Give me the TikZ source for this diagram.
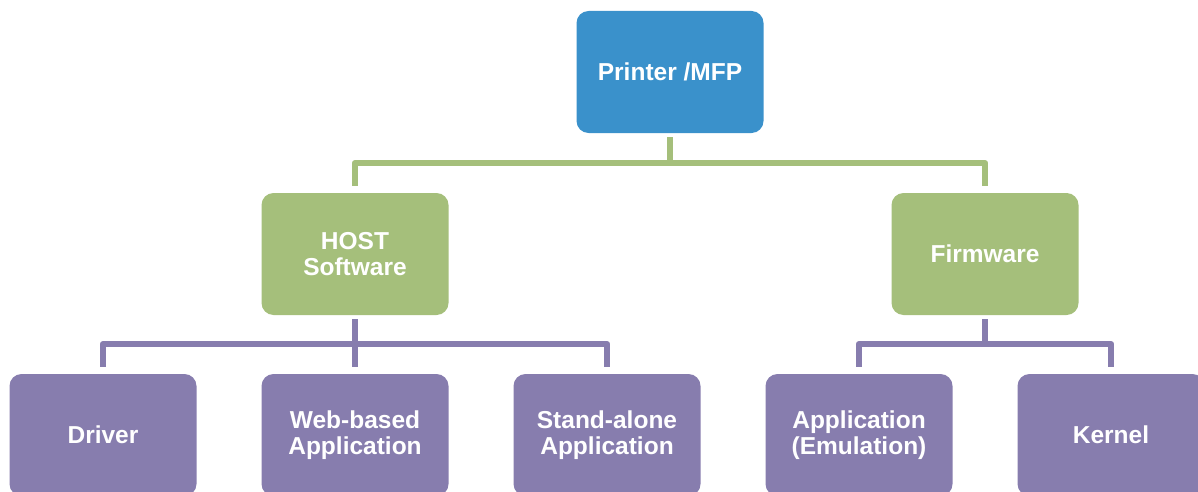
\documentclass[tikz,border=0pt]{standalone}
\usepackage{fontspec}
\setmainfont{Liberation Sans}
\definecolor{cblue}{HTML}{3A91CB}
\definecolor{cgreen}{HTML}{A5BF7B}
\definecolor{cpurple}{HTML}{877DAE}
\begin{document}
\begin{tikzpicture}[x=1pt,y=1pt,
  box/.style={rectangle, rounded corners=12pt, minimum width=187pt, draw=none,
    text=white, font=\fontsize{24.5}{26}\selectfont\bfseries, align=center, inner sep=0pt},
  topbox/.style={box, fill=cblue, minimum height=122pt},
  midbox/.style={box, fill=cgreen, minimum height=122pt},
  lowbox/.style={box, fill=cpurple, minimum height=122pt},
  gline/.style={draw=cgreen, line width=6.5pt, line join=round},
  pline/.style={draw=cpurple, line width=6.5pt, line join=round}]
\useasboundingbox (0,0) rectangle (1198,-492);
\node[topbox] (top) at (670,-72) {Printer /MFP};
\node[midbox] (host) at (355,-254) {HOST\\Software};
\node[midbox] (fw) at (985,-254) {Firmware};
\node[lowbox] (drv) at (103,-435) {Driver};
\node[lowbox] (web) at (355,-435) {Web-based\\Application};
\node[lowbox] (sa) at (607,-435) {Stand-alone\\Application};
\node[lowbox] (app) at (859,-435) {Application\\(Emulation)};
\node[lowbox] (ker) at (1111,-435) {Kernel};
% green connectors
\draw[gline] ([yshift=-4pt]top.south) -- ++(0,-26) coordinate (gbar);
\draw[gline] ([yshift=7pt]host.north) |- (gbar) -| ([yshift=7pt]fw.north);
% purple connectors, host
\draw[pline] ([yshift=-4pt]host.south) -- ++(0,-25) coordinate (pbar1);
\draw[pline] ([yshift=7pt]drv.north) |- (pbar1) -| ([yshift=7pt]sa.north);
\draw[pline] (pbar1) -- ([yshift=7pt]web.north);
% purple connectors, firmware
\draw[pline] ([yshift=-4pt]fw.south) -- ++(0,-25) coordinate (pbar2);
\draw[pline] ([yshift=7pt]app.north) |- (pbar2) -| ([yshift=7pt]ker.north);
\end{tikzpicture}
\end{document}
